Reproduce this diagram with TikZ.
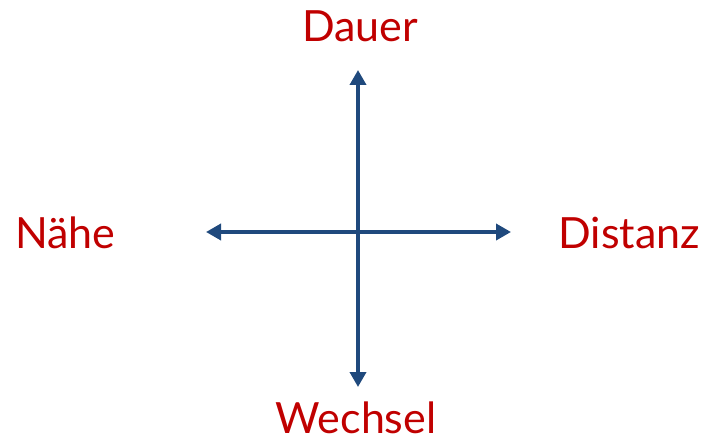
\documentclass[tikz,border=0pt]{standalone}
\usepackage{fontspec}
\setmainfont{Lato}
\usetikzlibrary{arrows.meta}
\definecolor{axisblue}{RGB}{31,73,125}
\definecolor{labelred}{RGB}{192,0,0}
\tikzset{
  axis/.style={
    axisblue,
    line width=3.6pt,
    {Triangle[length=15pt,width=16pt]}-{Triangle[length=15pt,width=16pt]}
  },
  pole/.style={
    text=labelred,
    font=\fontsize{43}{43}\selectfont,
    inner sep=0pt
  }
}

\begin{document}
\begin{tikzpicture}[x=1pt,y=-1pt]
  \useasboundingbox (0,0) rectangle (703,441);
  % axis ends
  \coordinate (top) at (358,70);
  \coordinate (bottom) at (358,387);
  \coordinate (left) at (206,232);
  \coordinate (right) at (511,232);
  \draw[axis] (left) -- (right);
  \draw[axis] (bottom) -- (top);
  % labels
  \node[pole, anchor=base] (dauer) at (360,42) {Dauer};
  \node[pole, anchor=base] (wechsel) at (356,433) {Wechsel};
  \node[pole, anchor=base west] (naehe) at (15,248) {Nähe};
  \node[pole, anchor=base east] (distanz) at (700,248) {Distanz};
\end{tikzpicture}
\end{document}
